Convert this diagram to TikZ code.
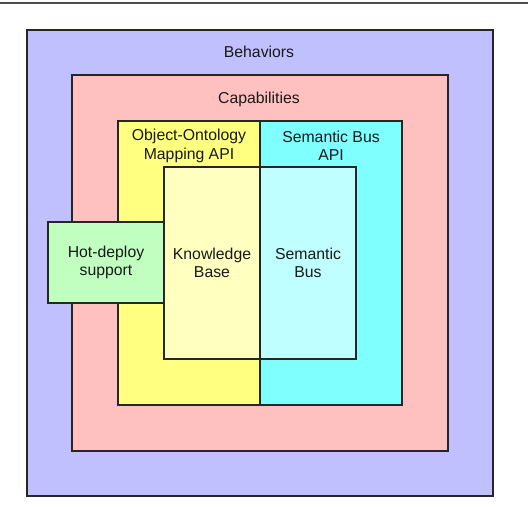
\documentclass[tikz,border=0pt]{standalone}
\usepackage{fontspec}
\setmainfont{Liberation Sans}
\usepackage{tikz}
\usetikzlibrary{positioning}

\definecolor{behavfill}{HTML}{C0C0FF}
\definecolor{capabfill}{HTML}{FFC0C0}
\definecolor{ooapifill}{HTML}{FFFF80}
\definecolor{sbapifill}{HTML}{80FFFF}
\definecolor{kbfill}{HTML}{FFFFC0}
\definecolor{sbusfill}{HTML}{C0FFFF}
\definecolor{hotfill}{HTML}{C0FFC0}

\begin{document}
\begin{tikzpicture}[x=1pt,y=-1pt,
    layer/.style={draw=black!85, line width=1.2pt, inner sep=0pt},
    caption/.style={font=\fontsize{15.8}{18.5}\selectfont, align=center, text=black!90}]
  \useasboundingbox (0,0) rectangle (528,524);
  \draw[black!70, line width=1.2pt] (0,3) -- (528,3);
  % nested layers
  \node[layer, fill=behavfill, minimum width=466pt, minimum height=466pt] (behaviors) at (260,263) {};
  \node[layer, fill=capabfill, minimum width=376pt, minimum height=376pt] (capabilities) at (260,263) {};
  \node[layer, fill=ooapifill, minimum width=142pt, minimum height=284pt] (ooapi) at (189,263) {};
  \node[layer, fill=sbapifill, minimum width=142pt, minimum height=284pt] (sbapi) at (331,263) {};
  \node[layer, fill=kbfill, minimum width=96pt, minimum height=192pt] (kb) at (212,263) {};
  \node[layer, fill=sbusfill, minimum width=96pt, minimum height=192pt] (sbus) at (308,263) {};
  \node[layer, fill=hotfill, minimum width=116pt, minimum height=81pt] (hotdeploy) at (106,262.5) {};
  % labels
  \node[caption] (behaviorslbl) at (259,52) {Behaviors};
  \node[caption] (capabilitieslbl) at (259,99) {Capabilities};
  \node[caption] (ooapilbl) at (189,146) {Object-Ontology\\Mapping API};
  \node[caption] (sbapilbl) at (331,146) {Semantic Bus\\API};
  \node[caption] (kblbl) at (kb) {Knowledge\\Base};
  \node[caption] (sbuslbl) at (sbus) {Semantic\\Bus};
  \node[caption] (hotdeploylbl) at (hotdeploy) {Hot-deploy\\support};
\end{tikzpicture}
\end{document}
